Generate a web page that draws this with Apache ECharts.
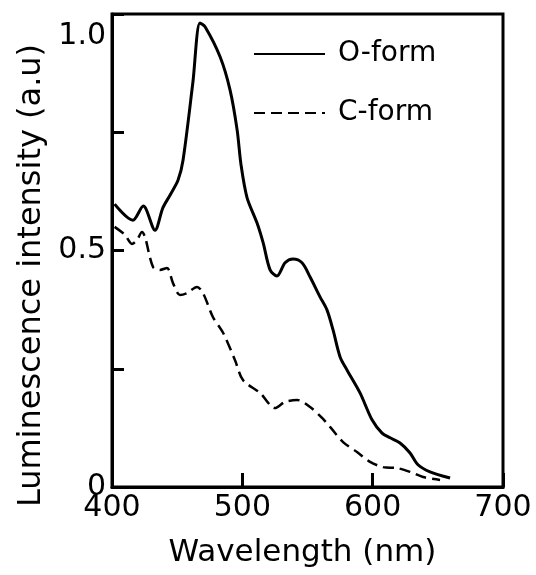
<!DOCTYPE html>
<html>
<head>
<meta charset="utf-8">
<script src="https://cdn.jsdelivr.net/npm/echarts@6/dist/echarts.min.js"></script>
<style>
  html, body { margin: 0; padding: 0; background: #fff; }
  #chart { width: 536px; height: 575px; }
</style>
</head>
<body>
<div id="chart"></div>
<script>
// wavelength (nm) / intensity pairs
const oFormWl = [402, 416, 424, 433, 439, 444.5, 450.7, 454.5, 462, 467.5, 471.4, 483, 490.6, 496, 499, 503.6, 511.3, 516, 521.3, 526.6, 532.8, 538.9, 545.8, 552, 559.6, 565, 569.6, 575, 580.4, 590.3, 599.5, 607.2, 613.4, 621, 628.7, 634.8, 644, 659.4]
const oFormVal = [0.598, 0.564, 0.594, 0.543, 0.590, 0.617, 0.649, 0.691, 0.854, 0.981, 0.973, 0.909, 0.839, 0.755, 0.681, 0.612, 0.558, 0.516, 0.459, 0.446, 0.474, 0.482, 0.474, 0.444, 0.402, 0.374, 0.332, 0.275, 0.247, 0.199, 0.142, 0.114, 0.104, 0.093, 0.072, 0.047, 0.032, 0.019]
const cFormWl = [402, 410, 415.3, 419.2, 423, 425.3, 431.5, 436.8, 442.2, 446.8, 452.2, 457.6, 465.2, 469.8, 477.5, 485.2, 494.4, 500.5, 513.6, 525.1, 532.8, 542, 552, 561.2, 567.3, 577.3, 588, 598, 608, 618.7, 628.7, 638.7, 651.7]
const cFormVal = [0.550, 0.533, 0.514, 0.522, 0.539, 0.529, 0.465, 0.459, 0.463, 0.431, 0.406, 0.410, 0.423, 0.410, 0.359, 0.326, 0.268, 0.226, 0.199, 0.167, 0.180, 0.184, 0.169, 0.146, 0.127, 0.095, 0.074, 0.053, 0.042, 0.040, 0.032, 0.021, 0.015]
const seriesNames = ['O-form', 'C-form']
const yLabels = { 0: '0', 0.5: '0.5', 1: '1.0' }

const pairs = (xs, ys) => xs.map((x, i) => [x, ys[i]])

const font = 'DejaVu Sans'
const myChart = echarts.init(document.getElementById('chart'))
const option = {
  animation: false,
  backgroundColor: '#fff',
  grid: {
    left: 112,
    right: 33,
    top: 14,
    bottom: 88,
    show: true,
    borderColor: '#000',
    borderWidth: 3
  },
  legend: {
    data: seriesNames,
    orient: 'vertical',
    left: 248,
    top: 35,
    itemWidth: 71,
    itemHeight: 28,
    itemGap: 31,
    itemStyle: { opacity: 0 },
    textStyle: { fontFamily: font, fontSize: 28, color: '#000', padding: [0, 0, 0, 8] }
  },
  xAxis: {
    type: 'value',
    min: 400,
    max: 700,
    interval: 100,
    name: 'Wavelength (nm)',
    nameLocation: 'middle',
    nameGap: 50,
    nameTextStyle: { fontFamily: font, fontSize: 31, color: '#000', padding: [0, 10, 0, 0] },
    axisLine: { lineStyle: { color: '#000', width: 3 } },
    axisTick: { inside: true, length: 14, lineStyle: { color: '#000', width: 3 } },
    axisLabel: { fontFamily: font, fontSize: 30, color: '#000', margin: 6 },
    splitLine: { show: false }
  },
  yAxis: {
    type: 'value',
    min: 0,
    max: 1,
    interval: 0.25,
    name: 'Luminescence intensity (a.u)',
    nameLocation: 'middle',
    nameGap: 60,
    nameTextStyle: { fontFamily: font, fontSize: 32, color: '#000', padding: [0, 50, 0, 0] },
    axisLine: { lineStyle: { color: '#000', width: 3 } },
    axisTick: { inside: true, length: 12, lineStyle: { color: '#000', width: 3 } },
    axisLabel: {
      fontFamily: font,
      fontSize: 30,
      color: '#000',
      margin: 6,
      formatter: v => v === 1 ? '{top|1.0}' : (yLabels[v] || ''),
      rich: {
        top: { fontFamily: font, fontSize: 30, color: '#000', padding: [44, 0, 0, 0] }
      }
    },
    splitLine: { show: false }
  },
  series: [
    {
      name: seriesNames[0],
      type: 'line',
      data: pairs(oFormWl, oFormVal),
      showSymbol: false,
      symbol: 'none',
      smooth: 0.3,
      lineStyle: { color: '#000', width: 3 },
      itemStyle: { color: '#000' }
    },
    {
      name: seriesNames[1],
      type: 'line',
      data: pairs(cFormWl, cFormVal),
      showSymbol: false,
      symbol: 'none',
      smooth: 0.3,
      lineStyle: { color: '#000', width: 2.5, type: [11, 6] },
      itemStyle: { color: '#000' }
    }
  ]
}
myChart.setOption(option)
</script>
</body>
</html>
